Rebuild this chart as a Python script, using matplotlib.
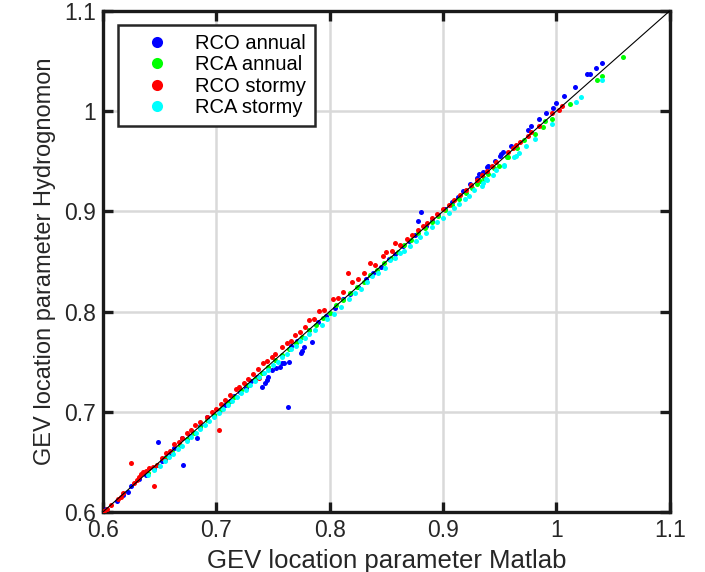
import matplotlib
matplotlib.use("Agg")
import matplotlib.pyplot as plt
from matplotlib.lines import Line2D

plt.rcParams['font.family'] = ['Liberation Sans', 'DejaVu Sans']

# ---------------- data ----------------
series_names = ["RCO annual", "RCA annual", "RCO stormy", "RCA stormy"]
series_colors = ["#0000ff", "#00ff00", "#ff0000", "#00ffff"]

rco_annual_x = [0.603, 0.612, 0.618, 0.622, 0.625, 0.632, 0.638, 0.645, 0.649, 0.652, 0.656, 0.660, 0.663,
                0.670, 0.671, 0.677, 0.683, 0.686, 0.692, 0.698, 0.703, 0.708, 0.712, 0.716, 0.721, 0.726,
                0.731, 0.736, 0.740, 0.743, 0.745, 0.746, 0.749, 0.753, 0.756, 0.758, 0.760, 0.764, 0.763,
                0.766, 0.771, 0.775, 0.776, 0.777, 0.784, 0.782, 0.790, 0.797, 0.805, 0.812, 0.818, 0.825,
                0.832, 0.838, 0.845, 0.852, 0.858, 0.865, 0.870, 0.875, 0.878, 0.881, 0.885, 0.890, 0.896,
                0.902, 0.908, 0.913, 0.918, 0.924, 0.930, 0.932, 0.935, 0.939, 0.940, 0.946, 0.950, 0.951,
                0.953, 0.960, 0.975, 0.978, 0.985, 0.991, 0.997, 1.000, 1.007, 1.016, 1.027, 1.030, 1.035,
                1.040]
rco_annual_y = [0.603, 0.611, 0.617, 0.620, 0.626, 0.633, 0.637, 0.643, 0.670, 0.651, 0.655, 0.659, 0.664,
                0.674, 0.647, 0.676, 0.674, 0.686, 0.695, 0.697, 0.702, 0.707, 0.711, 0.716, 0.720, 0.724,
                0.731, 0.735, 0.725, 0.729, 0.732, 0.735, 0.742, 0.744, 0.745, 0.749, 0.749, 0.750, 0.705,
                0.766, 0.771, 0.759, 0.761, 0.765, 0.770, 0.782, 0.790, 0.796, 0.804, 0.812, 0.817, 0.824,
                0.832, 0.838, 0.844, 0.852, 0.857, 0.865, 0.870, 0.876, 0.890, 0.899, 0.885, 0.890, 0.896,
                0.902, 0.909, 0.914, 0.920, 0.927, 0.933, 0.937, 0.939, 0.944, 0.945, 0.950, 0.955, 0.957,
                0.959, 0.965, 0.981, 0.985, 0.992, 0.998, 1.003, 1.008, 1.015, 1.024, 1.037, 1.037, 1.043,
                1.048]

rca_annual_x = [0.640, 0.648, 0.655, 0.661, 0.668, 0.674, 0.680, 0.686, 0.692, 0.698, 0.704, 0.710, 0.716,
                0.722, 0.728, 0.734, 0.740, 0.746, 0.752, 0.758, 0.764, 0.770, 0.776, 0.782, 0.788, 0.794,
                0.800, 0.806, 0.812, 0.818, 0.824, 0.830, 0.836, 0.842, 0.848, 0.854, 0.860, 0.866, 0.872,
                0.878, 0.884, 0.890, 0.896, 0.902, 0.908, 0.914, 0.920, 0.926, 0.930, 0.933, 0.936, 0.937,
                0.940, 0.945, 0.949, 0.956, 0.957, 0.965, 0.971, 0.981, 0.988, 0.990, 0.996, 1.012, 1.036,
                1.040, 1.059]
rca_annual_y = [0.639, 0.647, 0.654, 0.660, 0.667, 0.673, 0.679, 0.685, 0.692, 0.697, 0.703, 0.709, 0.715,
                0.722, 0.727, 0.733, 0.739, 0.745, 0.752, 0.757, 0.763, 0.769, 0.775, 0.782, 0.787, 0.794,
                0.799, 0.806, 0.811, 0.818, 0.824, 0.829, 0.836, 0.841, 0.848, 0.853, 0.859, 0.866, 0.871,
                0.878, 0.883, 0.889, 0.895, 0.901, 0.906, 0.912, 0.918, 0.923, 0.927, 0.930, 0.933, 0.932,
                0.937, 0.943, 0.945, 0.954, 0.954, 0.963, 0.971, 0.977, 0.984, 0.990, 0.992, 1.007, 1.031,
                1.035, 1.054]

rco_stormy_x = [0.601, 0.604, 0.607, 0.613, 0.616, 0.618, 0.625, 0.627, 0.630, 0.632, 0.634, 0.635, 0.638,
                0.641, 0.644, 0.645, 0.648, 0.652, 0.655, 0.656, 0.659, 0.663, 0.667, 0.670, 0.674, 0.678,
                0.681, 0.686, 0.692, 0.696, 0.700, 0.702, 0.704, 0.708, 0.712, 0.717, 0.720, 0.724, 0.728,
                0.732, 0.737, 0.738, 0.741, 0.745, 0.749, 0.752, 0.758, 0.762, 0.766, 0.769, 0.774, 0.778,
                0.782, 0.786, 0.791, 0.795, 0.803, 0.807, 0.812, 0.816, 0.820, 0.825, 0.830, 0.836, 0.840,
                0.847, 0.850, 0.855, 0.858, 0.862, 0.868, 0.873, 0.878, 0.882, 0.886, 0.890, 0.895, 0.900,
                0.905, 0.910, 0.915, 0.920, 0.925, 0.930, 0.934, 0.939, 0.943, 0.947, 0.957, 0.962, 0.964,
                0.968, 0.975, 0.978, 0.985, 0.996, 1.002, 1.005]
rco_stormy_y = [0.601, 0.603, 0.607, 0.613, 0.615, 0.619, 0.649, 0.629, 0.632, 0.635, 0.638, 0.640, 0.641,
                0.644, 0.645, 0.626, 0.647, 0.654, 0.652, 0.659, 0.661, 0.668, 0.670, 0.674, 0.679, 0.682,
                0.687, 0.690, 0.695, 0.700, 0.703, 0.682, 0.708, 0.712, 0.717, 0.723, 0.725, 0.729, 0.733,
                0.738, 0.743, 0.734, 0.749, 0.751, 0.755, 0.758, 0.765, 0.769, 0.771, 0.777, 0.780, 0.785,
                0.792, 0.793, 0.801, 0.802, 0.812, 0.813, 0.819, 0.838, 0.829, 0.832, 0.838, 0.848, 0.846,
                0.855, 0.859, 0.860, 0.868, 0.866, 0.872, 0.876, 0.881, 0.885, 0.888, 0.893, 0.897, 0.902,
                0.906, 0.911, 0.916, 0.921, 0.926, 0.931, 0.936, 0.940, 0.945, 0.949, 0.959, 0.963, 0.966,
                0.969, 0.975, 0.979, 0.985, 0.998, 1.001, 1.005]

rca_stormy_x = [0.640, 0.645, 0.650, 0.655, 0.658, 0.662, 0.666, 0.670, 0.674, 0.678, 0.682, 0.686, 0.690,
                0.694, 0.698, 0.702, 0.706, 0.710, 0.714, 0.718, 0.722, 0.726, 0.730, 0.734, 0.738, 0.742,
                0.746, 0.750, 0.754, 0.758, 0.762, 0.766, 0.770, 0.774, 0.778, 0.782, 0.787, 0.793, 0.798,
                0.804, 0.810, 0.817, 0.822, 0.828, 0.833, 0.837, 0.843, 0.849, 0.853, 0.858, 0.862, 0.866,
                0.871, 0.876, 0.880, 0.885, 0.890, 0.895, 0.900, 0.905, 0.910, 0.914, 0.919, 0.923, 0.927,
                0.934, 0.935, 0.938, 0.939, 0.944, 0.947, 0.954, 0.954, 0.963, 0.964, 0.967, 0.973, 0.981,
                0.996, 1.017, 1.022, 1.040]
rca_stormy_y = [0.637, 0.642, 0.646, 0.651, 0.655, 0.658, 0.663, 0.666, 0.671, 0.675, 0.679, 0.683, 0.687,
                0.691, 0.695, 0.699, 0.703, 0.707, 0.711, 0.715, 0.719, 0.722, 0.727, 0.731, 0.735, 0.739,
                0.742, 0.747, 0.750, 0.755, 0.758, 0.763, 0.766, 0.771, 0.774, 0.778, 0.782, 0.787, 0.793,
                0.798, 0.805, 0.812, 0.818, 0.822, 0.829, 0.835, 0.838, 0.843, 0.851, 0.853, 0.858, 0.860,
                0.865, 0.870, 0.874, 0.878, 0.884, 0.889, 0.893, 0.898, 0.903, 0.907, 0.912, 0.915, 0.921,
                0.925, 0.928, 0.932, 0.931, 0.936, 0.941, 0.945, 0.946, 0.954, 0.955, 0.958, 0.965, 0.972,
                0.987, 1.009, 1.014, 1.031]

ticks = [0.6, 0.7, 0.8, 0.9, 1.0, 1.1]
tick_labels = ["0.6", "0.7", "0.8", "0.9", "1", "1.1"]
xlabel = "GEV location parameter Matlab"
ylabel = "GEV location parameter Hydrognomon"

# ---------------- plot ----------------
fig = plt.figure(figsize=(7.05, 5.72), dpi=100)
ax = fig.add_axes([0.146, 0.105, 0.804, 0.876])

xs = [rco_annual_x, rca_annual_x, rco_stormy_x, rca_stormy_x]
ys = [rco_annual_y, rca_annual_y, rco_stormy_y, rca_stormy_y]
for x, y, c, n in zip(xs, ys, series_colors, series_names):
    ax.scatter(x, y, s=13, c=c, marker='o', linewidths=0, label=n, zorder=3)

ax.plot([0.6, 1.1], [0.6, 1.1], color='black', linewidth=0.8, zorder=4)

ax.set_xlim(0.6, 1.1)
ax.set_ylim(0.6, 1.1)
ax.set_xticks(ticks)
ax.set_xticklabels(tick_labels)
ax.set_yticks(ticks)
ax.set_yticklabels(tick_labels)
ax.grid(True, color='#d9d9d9', linewidth=1.8, zorder=0)
ax.set_axisbelow(True)
for sp in ax.spines.values():
    sp.set_linewidth(2.4)
    sp.set_color('#1a1a1a')
ax.tick_params(direction='in', length=7, width=2.4, top=True, right=True,
               labelsize=16.5, colors='#1a1a1a', labelcolor='#262626', pad=5)

ax.set_xlabel(xlabel, fontsize=18.5, color='#262626', labelpad=5)
ax.set_ylabel(ylabel, fontsize=17, color='#262626', labelpad=6)

handles = [Line2D([], [], linestyle='none', marker='o', markersize=8, markerfacecolor=c,
                  markeredgewidth=0, label=n) for c, n in zip(series_colors, series_names)]
leg = ax.legend(handles=handles, loc='upper left', bbox_to_anchor=(0.026, 0.972), fontsize=14.5,
                frameon=True, fancybox=False, framealpha=1, edgecolor='#262626',
                handletextpad=0.4, borderpad=0.45, labelspacing=0.12, handlelength=3.0,
                borderaxespad=0)
leg.get_frame().set_linewidth(1.8)

fig.savefig("out.png", dpi=100)
